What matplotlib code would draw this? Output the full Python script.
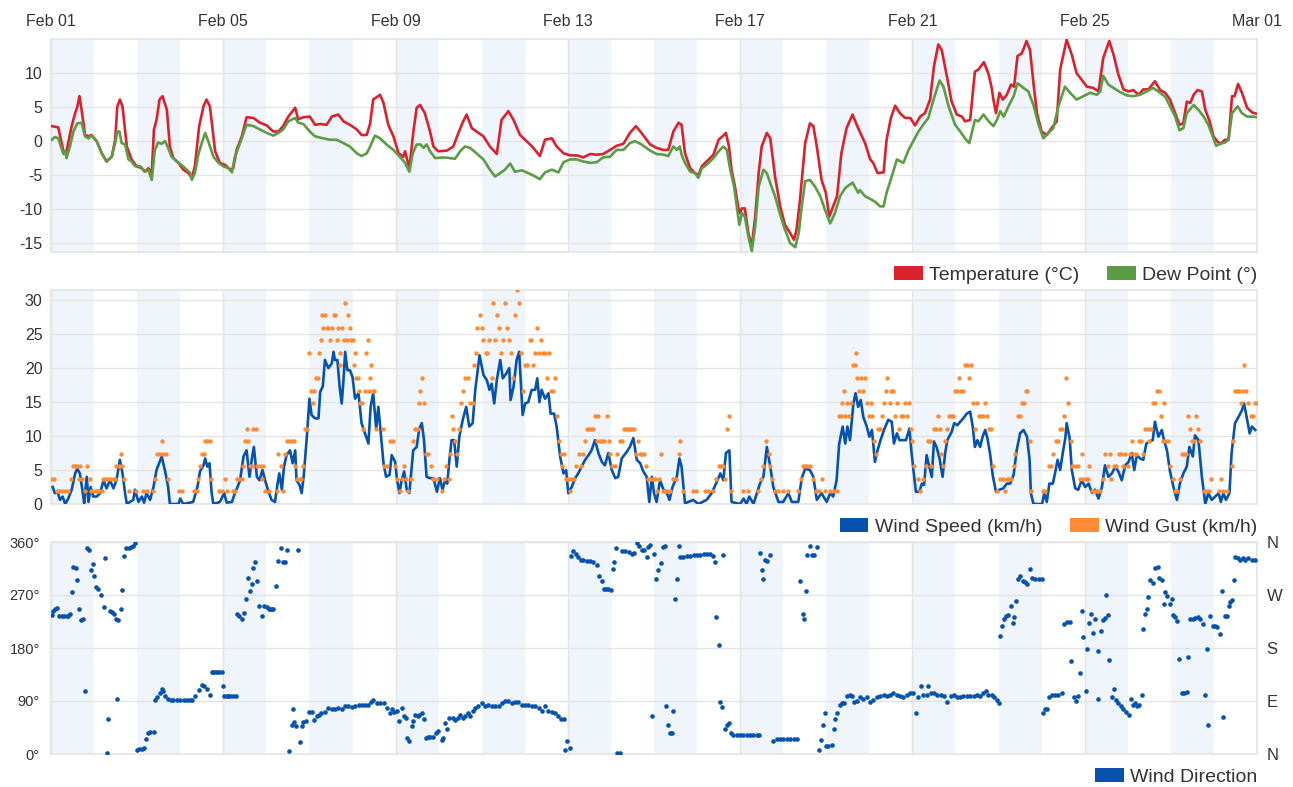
import matplotlib
matplotlib.use("Agg")
import matplotlib.pyplot as plt
from matplotlib.patches import Patch

plt.rcParams['font.family'] = ['Liberation Sans', 'DejaVu Sans']

# ---------------- data (time in days since Feb 01 00:00) ----------------
day_ticks = [0, 4, 8, 12, 16, 20, 24, 28]
day_labels = ["Feb 01", "Feb 05", "Feb 09", "Feb 13", "Feb 17", "Feb 21", "Feb 25", "Mar 01"]

temp_ticks = [-15, -10, -5, 0, 5, 10]
speed_ticks = [0, 5, 10, 15, 20, 25, 30]
dir_ticks = [0, 90, 180, 270, 360]
dir_labels = ["0°", "90°", "180°", "270°", "360°"]
compass_labels = ["N", "E", "S", "W", "N"]

temperature = [
    (0.02, 2.2), (0.17, 2.0), (0.23, 0.2), (0.29, -1.5), (0.36, -1.5), (0.48, 2.2), (0.56, 4.1), (0.61, 5.0),
    (0.66, 6.6), (0.71, 4.6), (0.79, 0.9), (0.87, 0.7), (0.94, 0.9), (1.06, 0.0), (1.18, -1.8), (1.29, -3.0),
    (1.41, -2.3), (1.49, 0.2), (1.54, 5.1), (1.60, 6.1), (1.66, 5.1), (1.76, -0.8), (1.87, -2.7), (1.99, -3.7),
    (2.11, -4.0), (2.18, -4.5), (2.26, -4.0), (2.34, -4.7), (2.39, 1.7), (2.45, 3.1), (2.52, 6.1), (2.59, 6.6),
    (2.69, 4.6), (2.76, -0.8), (2.84, -2.5), (2.96, -3.2), (3.07, -4.2), (3.19, -4.7), (3.27, -5.4), (3.34, -3.7),
    (3.44, 2.2), (3.54, 5.1), (3.61, 6.1), (3.69, 5.1), (3.81, -1.5), (3.92, -3.2), (4.04, -3.5), (4.16, -4.2),
    (4.23, -4.0), (4.31, -1.3), (4.43, 0.7), (4.54, 3.5), (4.70, 3.4), (4.85, 2.7), (5.01, 2.3), (5.16, 1.4),
    (5.28, 1.4), (5.39, 2.2), (5.51, 3.6), (5.67, 4.9), (5.74, 3.2), (5.86, 3.5), (6.01, 3.6), (6.13, 2.4),
    (6.25, 2.5), (6.40, 2.4), (6.52, 3.6), (6.67, 3.9), (6.79, 2.9), (6.94, 2.4), (7.10, 1.7), (7.21, 0.9),
    (7.33, 0.9), (7.41, 2.6), (7.48, 6.1), (7.64, 6.8), (7.72, 5.6), (7.83, 2.4), (7.95, 0.7), (8.07, -1.8),
    (8.18, -2.3), (8.22, -1.5), (8.32, -4.0), (8.41, 1.2), (8.49, 4.9), (8.57, 5.3), (8.68, 4.1),
    (8.80, 1.4), (8.88, -0.8), (8.99, -1.5), (9.19, -1.4), (9.34, -0.8), (9.46, 1.2), (9.57, 2.9), (9.65, 3.9),
    (9.77, 1.9), (9.88, 1.4), (10.04, 0.7), (10.19, -0.8), (10.35, -1.9), (10.46, 3.1), (10.62, 4.4), (10.74, 3.1),
    (10.89, 0.9), (11.04, 0.0), (11.20, -1.0), (11.35, -2.2), (11.47, 0.2), (11.63, 0.4), (11.74, -0.8), (11.90, -1.8),
    (12.05, -2.1), (12.21, -2.1), (12.36, -2.4), (12.52, -1.9), (12.67, -2.0), (12.82, -1.9), (12.98, -1.3), (13.13, -0.7),
    (13.29, -0.4), (13.44, 1.2), (13.58, 2.2), (13.71, 1.2), (13.91, -0.5), (14.06, -1.0), (14.22, -1.3), (14.33, -1.3),
    (14.45, 1.4), (14.57, 2.7), (14.64, 2.4), (14.72, -1.8), (14.84, -4.0), (14.95, -4.7), (15.03, -5.0), (15.11, -3.7),
    (15.22, -3.0), (15.38, -2.0), (15.50, 0.2), (15.61, 0.8), (15.67, 1.2), (15.74, -0.8), (15.80, -4.2), (15.88, -6.7),
    (15.98, -10.6), (16.04, -9.9), (16.11, -9.9), (16.19, -13.5), (16.27, -15.5), (16.35, -11.1), (16.43, -4.7), (16.50, -0.8),
    (16.62, 1.2), (16.70, 0.4), (16.81, -5.2), (16.93, -9.6), (17.04, -12.3), (17.16, -13.5), (17.25, -14.5), (17.31, -13.0),
    (17.39, -8.6), (17.51, -0.3), (17.62, 2.6), (17.70, 2.2), (17.78, -0.8), (17.89, -5.7), (17.99, -7.6), (18.07, -11.1),
    (18.16, -9.6), (18.25, -8.1), (18.35, -1.8), (18.47, 1.9), (18.61, 3.9), (18.74, 1.9),
    (18.90, -0.3), (19.02, -2.7), (19.09, -3.2), (19.19, -4.7), (19.33, -4.6), (19.40, 0.2), (19.50, 3.4), (19.60, 5.2),
    (19.71, 4.1), (19.83, 3.4), (19.95, 3.4), (20.06, 2.3), (20.18, 3.6), (20.29, 4.1), (20.41, 6.1), (20.50, 11.0),
    (20.60, 14.2), (20.68, 13.4), (20.80, 9.5), (20.91, 5.8), (21.03, 3.9), (21.15, 3.6), (21.22, 2.9), (21.34, 3.1),
    (21.45, 10.2), (21.53, 10.5), (21.66, 11.6), (21.77, 9.8), (21.84, 7.8), (21.88, 6.1), (21.94, 4.1), (22.02, 7.1),
    (22.10, 6.1), (22.19, 6.8), (22.29, 8.3), (22.36, 8.0), (22.44, 12.5), (22.54, 12.9), (22.65, 14.7), (22.73, 13.4),
    (22.81, 8.5), (22.89, 4.1), (23.00, 1.4), (23.12, 0.9), (23.23, 1.9), (23.35, 2.9), (23.43, 10.5), (23.58, 14.9),
    (23.70, 12.7), (23.81, 10.0), (23.93, 9.0), (24.05, 8.0), (24.20, 7.8), (24.32, 7.3), (24.43, 12.2), (24.57, 14.7),
    (24.67, 12.7), (24.78, 9.8), (24.90, 7.6), (25.02, 7.3), (25.13, 7.5), (25.25, 6.8), (25.36, 7.6), (25.48, 7.6),
    (25.63, 8.8), (25.75, 7.5), (25.87, 7.1), (25.98, 6.1), (26.10, 4.1), (26.20, 2.4), (26.29, 2.6), (26.37, 5.8),
    (26.45, 5.6), (26.53, 6.8), (26.62, 7.5), (26.72, 7.3), (26.80, 4.6), (26.90, 2.9), (26.99, 0.7), (27.07, 0.0),
    (27.15, -0.4), (27.26, 0.2), (27.34, 0.2), (27.42, 6.6), (27.48, 6.6), (27.56, 8.4), (27.65, 7.1), (27.77, 4.9),
    (27.89, 4.2), (28.00, 4.0),
]

dew_point = [
    (0.02, 0.2), (0.09, 0.6), (0.17, 0.4), (0.23, -0.8), (0.29, -1.9), (0.33, -1.5), (0.36, -2.5), (0.44, -0.8),
    (0.52, 1.4), (0.61, 2.6), (0.71, 2.7), (0.79, 0.7), (0.87, 0.4), (0.94, 0.8), (1.06, 0.0), (1.18, -1.8),
    (1.29, -3.0), (1.41, -2.3), (1.49, -0.3), (1.54, 1.4), (1.59, 1.4), (1.64, -0.3), (1.72, -0.5), (1.80, -2.7),
    (1.87, -3.0), (1.95, -3.7), (2.07, -3.7), (2.18, -4.5), (2.26, -4.2), (2.34, -5.7), (2.41, -1.3), (2.49, -0.2),
    (2.57, -0.4), (2.65, 0.0), (2.72, -1.0), (2.80, -2.3), (2.92, -3.0), (3.03, -3.5), (3.15, -4.2), (3.23, -4.7),
    (3.27, -5.7), (3.34, -4.7), (3.42, -2.0), (3.50, -0.3), (3.58, 1.2), (3.65, 0.0), (3.77, -2.3), (3.89, -3.2),
    (4.00, -3.7), (4.12, -4.0), (4.20, -4.6), (4.27, -2.3), (4.39, -0.3), (4.54, 2.4), (4.70, 2.2), (4.85, 1.7),
    (5.01, 1.2), (5.16, 0.8), (5.28, 1.2), (5.39, 1.7), (5.51, 2.9), (5.67, 3.4), (5.74, 2.7), (5.86, 2.5),
    (6.01, 1.4), (6.13, 0.7), (6.32, 0.4), (6.48, 0.2), (6.63, 0.2), (6.79, -0.3), (6.94, -0.8), (7.10, -1.8),
    (7.21, -2.2), (7.33, -1.8), (7.41, -0.8), (7.52, 0.8), (7.64, 0.4), (7.79, -0.5), (7.95, -1.3), (8.10, -2.3),
    (8.22, -3.2), (8.32, -4.5), (8.40, -1.8), (8.49, -0.5), (8.58, -0.5), (8.65, -1.0), (8.72, -0.5),
    (8.80, -1.5), (8.92, -2.5), (9.11, -2.4), (9.26, -2.5), (9.38, -2.6), (9.50, -1.5), (9.61, -0.8), (9.73, -1.0),
    (9.88, -1.8), (10.04, -2.7), (10.19, -4.2), (10.31, -5.2), (10.43, -4.7), (10.54, -4.2), (10.66, -3.3), (10.77, -4.5),
    (10.93, -4.3), (11.08, -4.7), (11.24, -5.2), (11.35, -5.6), (11.47, -4.6), (11.63, -4.2), (11.78, -4.6), (11.90, -3.1),
    (12.05, -2.7), (12.21, -2.7), (12.36, -3.0), (12.52, -3.2), (12.67, -3.1), (12.82, -2.4), (12.98, -2.3), (13.13, -1.3),
    (13.29, -1.3), (13.44, -0.3), (13.56, 0.0), (13.71, -0.5), (13.91, -1.4), (14.06, -1.9), (14.22, -2.0), (14.33, -2.2),
    (14.45, -0.8), (14.53, -1.3), (14.60, -0.8), (14.64, -2.0), (14.72, -3.2), (14.84, -4.5), (14.95, -4.7), (15.03, -5.4),
    (15.11, -4.0), (15.22, -3.5), (15.38, -2.5), (15.50, -1.5), (15.61, -0.8), (15.69, -1.3), (15.77, -4.2), (15.86, -6.7),
    (15.98, -12.3), (16.04, -10.6), (16.11, -11.1), (16.19, -14.0), (16.27, -16.2), (16.35, -12.5), (16.43, -6.7), (16.54, -4.2),
    (16.62, -4.7), (16.70, -6.2), (16.81, -8.1), (16.93, -10.8), (17.04, -13.0), (17.16, -15.0), (17.28, -15.6), (17.36, -13.5),
    (17.43, -9.6), (17.51, -5.9), (17.62, -5.7), (17.74, -6.7), (17.86, -8.1), (17.97, -10.1), (18.09, -12.1), (18.20, -10.6),
    (18.32, -8.1), (18.44, -6.9), (18.61, -6.1), (18.74, -7.6),
    (18.78, -7.2), (18.90, -8.1), (19.02, -8.5), (19.13, -8.9), (19.25, -9.6), (19.33, -9.6), (19.40, -7.6), (19.52, -5.2),
    (19.64, -2.7), (19.79, -3.2), (19.91, -1.3), (20.02, 0.0), (20.14, 1.4), (20.25, 2.4), (20.37, 3.4), (20.49, 6.1),
    (20.63, 8.9), (20.72, 8.0), (20.84, 5.1), (20.99, 2.4), (21.11, 1.4), (21.22, 0.4), (21.32, -0.3), (21.45, 3.1),
    (21.53, 2.9), (21.65, 3.9), (21.77, 2.9), (21.88, 2.2), (21.96, 3.1), (22.04, 4.4), (22.12, 3.6), (22.23, 5.1),
    (22.35, 6.6), (22.44, 8.5), (22.58, 7.8), (22.69, 7.3), (22.81, 5.3), (22.93, 2.4), (23.04, 0.4), (23.16, 1.2),
    (23.27, 1.9), (23.39, 5.1), (23.54, 8.0), (23.66, 7.1), (23.81, 6.1), (23.97, 6.6), (24.13, 7.1), (24.28, 6.8),
    (24.36, 7.3), (24.43, 9.6), (24.55, 8.3), (24.67, 7.8), (24.82, 7.2), (24.98, 6.7), (25.13, 6.6), (25.28, 6.8),
    (25.44, 7.3), (25.59, 7.8), (25.75, 7.1), (25.87, 6.5), (25.98, 5.1), (26.10, 3.6), (26.20, 1.6), (26.29, 1.9),
    (26.37, 4.1), (26.53, 5.3), (26.64, 4.6), (26.76, 3.6), (26.87, 2.4), (26.99, 0.4), (27.05, -0.7), (27.15, -0.4),
    (27.26, -0.2), (27.34, 0.2), (27.42, 4.1), (27.55, 5.1), (27.65, 4.1), (27.77, 3.6), (27.89, 3.6), (28.00, 3.5),
]

wind_speed = [
    (0.04, 2.5), (0.09, 1.6), (0.15, 1.8), (0.21, 0.6), (0.27, 1.1), (0.33, 0.0), (0.40, 0.8), (0.48, 2.1),
    (0.56, 4.5), (0.61, 5.2), (0.67, 4.5), (0.74, 1.6), (0.77, 0.1), (0.83, 4.0), (0.87, 0.3), (0.92, 2.5),
    (0.98, 1.1), (1.06, 1.1), (1.14, 1.6), (1.22, 3.5), (1.29, 2.3), (1.37, 3.5), (1.45, 2.3), (1.52, 3.5),
    (1.60, 6.5), (1.66, 4.5), (1.72, 1.6), (1.76, 0.0), (1.83, 0.3), (1.91, 0.6), (1.95, 2.1), (2.03, 0.3),
    (2.11, 1.1), (2.16, 0.2), (2.22, 1.6), (2.30, 0.6), (2.38, 2.5), (2.45, 5.0), (2.57, 7.0), (2.65, 4.8),
    (2.72, 2.5), (2.76, 0.0), (2.96, 0.0), (3.00, 0.8), (3.07, 0.0), (3.30, 0.3), (3.40, 2.5), (3.46, 4.8),
    (3.54, 5.7), (3.58, 6.7), (3.63, 5.5), (3.68, 6.0), (3.73, 1.6), (3.77, 0.0), (3.92, 0.3), (4.02, 1.6),
    (4.08, 0.2), (4.20, 0.3), (4.27, 1.6), (4.33, 2.5), (4.39, 3.5), (4.47, 7.0), (4.54, 7.9), (4.61, 4.0),
    (4.66, 6.5), (4.71, 8.4), (4.78, 4.0), (4.84, 3.5), (4.91, 5.0), (4.97, 3.5), (5.05, 1.8), (5.12, 0.6),
    (5.20, 0.3), (5.26, 3.0), (5.30, 4.5), (5.36, 2.1), (5.41, 5.5), (5.47, 7.2), (5.55, 7.9), (5.61, 6.0),
    (5.67, 7.9), (5.70, 3.5), (5.77, 2.8), (5.82, 1.6), (5.87, 4.3), (5.94, 9.9), (6.00, 15.5), (6.05, 13.1),
    (6.13, 12.6), (6.21, 12.6), (6.25, 16.5), (6.31, 17.3), (6.36, 21.2), (6.44, 20.0), (6.52, 20.7), (6.56, 22.4),
    (6.59, 21.2), (6.65, 21.2), (6.70, 17.3), (6.75, 14.8), (6.79, 18.2), (6.83, 22.4), (6.88, 19.7), (6.94, 19.7),
    (7.00, 18.7), (7.06, 15.5), (7.14, 16.3), (7.21, 11.9), (7.29, 10.4), (7.37, 8.9), (7.42, 14.3), (7.48, 16.3),
    (7.55, 11.1), (7.60, 14.3), (7.65, 10.9), (7.72, 6.0), (7.78, 4.0), (7.86, 4.3), (7.91, 7.2), (7.99, 6.2),
    (8.03, 3.8), (8.09, 1.6), (8.14, 3.5), (8.20, 4.8), (8.26, 2.1), (8.32, 1.6), (8.41, 7.9), (8.49, 8.4),
    (8.55, 11.1), (8.61, 11.9), (8.66, 9.4), (8.72, 4.0),
    (8.80, 3.8), (8.88, 3.8), (8.96, 1.8), (9.03, 3.8), (9.09, 2.1), (9.15, 3.5), (9.20, 3.0), (9.25, 6.5),
    (9.30, 9.4), (9.36, 9.4), (9.42, 5.5), (9.48, 9.9), (9.56, 12.4), (9.64, 14.3), (9.71, 11.4), (9.79, 11.9),
    (9.85, 16.8), (9.95, 21.9), (10.04, 19.0), (10.12, 18.2), (10.18, 16.8), (10.23, 17.7), (10.29, 14.8), (10.35, 18.2),
    (10.43, 21.2), (10.49, 18.5), (10.57, 19.2), (10.64, 20.0), (10.67, 15.3), (10.74, 17.3), (10.81, 21.2), (10.87, 22.4),
    (10.95, 13.1), (11.01, 14.8), (11.08, 15.0), (11.16, 16.8), (11.24, 16.8), (11.29, 18.5), (11.34, 15.0), (11.39, 16.8),
    (11.47, 15.5), (11.55, 16.3), (11.60, 13.3), (11.68, 13.3), (11.74, 11.4), (11.82, 7.0), (11.90, 4.5), (11.96, 5.0),
    (12.01, 1.6), (12.09, 2.5), (12.17, 3.8), (12.24, 4.5), (12.32, 5.5), (12.40, 6.5), (12.48, 7.2), (12.55, 7.9),
    (12.63, 9.4), (12.71, 7.5), (12.79, 6.2), (12.86, 5.7), (12.94, 7.5), (13.02, 5.0), (13.10, 3.8), (13.17, 4.0),
    (13.25, 6.7), (13.37, 7.7), (13.44, 8.4), (13.52, 9.7), (13.60, 6.5), (13.68, 6.0), (13.75, 4.8), (13.83, 4.0),
    (13.89, 0.3), (13.95, 4.0), (14.00, 1.6), (14.06, 0.3), (14.14, 3.5), (14.22, 2.1), (14.30, 1.6), (14.36, 0.6),
    (14.43, 2.5), (14.53, 4.0), (14.59, 6.7), (14.64, 5.5), (14.72, 0.1), (14.91, 0.6), (15.03, 0.0), (15.22, 0.6),
    (15.34, 1.6), (15.46, 3.3), (15.54, 4.5), (15.61, 3.5), (15.67, 7.5), (15.75, 7.9), (15.80, 0.3), (16.00, 0.0),
    (16.08, 0.8), (16.15, 0.0), (16.21, 1.1), (16.31, 0.0), (16.46, 3.0), (16.54, 4.0), (16.62, 8.4), (16.70, 5.5),
    (16.77, 2.5), (16.89, 0.3), (17.00, 0.3), (17.12, 1.6), (17.20, 0.3), (17.35, 0.3), (17.43, 3.8), (17.51, 5.2),
    (17.62, 5.0), (17.70, 4.0), (17.78, 0.6), (17.89, 1.6), (18.01, 0.3), (18.09, 1.6), (18.16, 1.1), (18.24, 3.5),
    (18.30, 8.9), (18.38, 11.4), (18.44, 8.9), (18.49, 11.4), (18.55, 9.4), (18.63, 14.8), (18.68, 16.3), (18.74, 14.3),
    (18.80, 15.3), (18.86, 12.8), (18.94, 11.4), (19.00, 9.9), (19.06, 10.9), (19.13, 6.2), (19.19, 7.9), (19.26, 9.4),
    (19.34, 10.9), (19.44, 12.4), (19.52, 12.1), (19.57, 8.9), (19.64, 10.4), (19.70, 9.4), (19.78, 9.4), (19.85, 9.4),
    (19.93, 11.1), (19.98, 7.5), (20.04, 4.0), (20.08, 1.8), (20.16, 1.8), (20.22, 3.0), (20.27, 2.8), (20.33, 7.2),
    (20.39, 5.5), (20.45, 4.0), (20.50, 9.2), (20.56, 8.4), (20.63, 6.7), (20.70, 4.0), (20.76, 7.5), (20.81, 9.4),
    (20.91, 10.6), (20.97, 11.9), (21.04, 11.6), (21.11, 12.1), (21.18, 12.6), (21.26, 13.3), (21.34, 13.6), (21.40, 11.4),
    (21.45, 8.4), (21.51, 9.4), (21.57, 8.4), (21.63, 9.9), (21.69, 10.9), (21.74, 9.7), (21.80, 7.5), (21.87, 4.0),
    (21.94, 1.8), (22.02, 2.1), (22.11, 2.3), (22.19, 3.0), (22.27, 3.0), (22.35, 4.3), (22.42, 7.9), (22.50, 10.4),
    (22.58, 10.9), (22.66, 9.9), (22.72, 6.5), (22.75, 1.6), (22.81, 0.0), (23.01, 0.0), (23.06, 1.6), (23.12, 0.3),
    (23.18, 3.0), (23.26, 3.0), (23.31, 4.5), (23.37, 6.5), (23.43, 5.0), (23.49, 7.5), (23.55, 9.7), (23.58, 11.9),
    (23.65, 9.7), (23.70, 5.0), (23.78, 2.3), (23.85, 2.1), (23.93, 3.5), (24.01, 2.5), (24.09, 3.0), (24.17, 1.6),
    (24.24, 2.1), (24.32, 0.8), (24.40, 2.5), (24.47, 5.7), (24.55, 4.0), (24.63, 4.5), (24.71, 5.5), (24.78, 4.8),
    (24.86, 3.5), (24.94, 5.7), (25.02, 6.2), (25.09, 7.5), (25.15, 5.0), (25.21, 7.2), (25.29, 6.7), (25.36, 6.5),
    (25.43, 8.9), (25.50, 9.2), (25.58, 9.4), (25.63, 12.1), (25.71, 9.9), (25.79, 10.9), (25.84, 9.4), (25.91, 7.9),
    (25.98, 4.8), (26.06, 2.5), (26.14, 0.6), (26.21, 3.0), (26.29, 4.5), (26.37, 5.5), (26.43, 8.4), (26.51, 7.0),
    (26.56, 10.1), (26.64, 9.4), (26.72, 4.0), (26.80, 0.0), (26.87, 1.6), (26.95, 0.6), (27.03, 1.1), (27.11, 1.6),
    (27.16, 0.3), (27.22, 1.6), (27.28, 0.6), (27.36, 1.6), (27.41, 7.5), (27.49, 11.9), (27.57, 12.8), (27.65, 13.8),
    (27.70, 14.8), (27.76, 12.8), (27.83, 10.4), (27.88, 11.4), (27.96, 10.9),
]

wind_gust = [
    (0.02, 3.7), (0.08, 3.7), (0.13, 1.9), (0.19, 1.9), (0.26, 1.9), (0.33, 1.9), (0.40, 1.9), (0.46, 3.7),
    (0.50, 5.6), (0.56, 5.6), (0.61, 5.6), (0.64, 3.7), (0.67, 5.6), (0.71, 3.7), (0.79, 1.9), (0.84, 5.6),
    (0.91, 3.7), (0.94, 1.9), (1.01, 1.9), (1.06, 1.9), (1.12, 1.9), (1.18, 1.9), (1.20, 3.7), (1.25, 3.7),
    (1.31, 3.7), (1.37, 3.7), (1.43, 3.7), (1.49, 3.7), (1.52, 5.6), (1.59, 5.6), (1.62, 7.4), (1.64, 5.6),
    (1.70, 3.7), (1.80, 1.9), (1.97, 1.9), (2.14, 1.9), (2.22, 1.9), (2.36, 1.9), (2.41, 3.7), (2.45, 7.4),
    (2.52, 7.4), (2.57, 9.3), (2.59, 7.4), (2.66, 7.4), (2.72, 3.7), (2.98, 1.9), (3.03, 1.9), (3.33, 1.9),
    (3.38, 1.9), (3.42, 3.7), (3.46, 5.6), (3.50, 7.4), (3.55, 7.4), (3.58, 9.3), (3.63, 9.3), (3.68, 9.3),
    (3.71, 3.7), (3.91, 1.9), (3.96, 1.9), (4.04, 3.7), (4.08, 1.9), (4.23, 1.9), (4.28, 1.9), (4.33, 3.7),
    (4.37, 3.7), (4.43, 3.7), (4.45, 5.6), (4.50, 9.3), (4.54, 11.1), (4.58, 9.3), (4.62, 5.6), (4.67, 5.6),
    (4.70, 11.1), (4.76, 11.1), (4.79, 5.6), (4.85, 5.6), (4.89, 3.7), (4.93, 5.6), (4.98, 1.9), (5.05, 1.9),
    (5.24, 1.9), (5.28, 7.4), (5.33, 5.6), (5.38, 1.9), (5.43, 7.4), (5.47, 9.3), (5.53, 9.3), (5.59, 9.3),
    (5.64, 9.3), (5.67, 5.6), (5.72, 3.7), (5.77, 3.7), (5.80, 3.7), (5.84, 5.6), (5.90, 11.1), (5.95, 11.1),
    (6.00, 22.2), (6.04, 16.7), (6.08, 14.8), (6.11, 16.7), (6.15, 18.5), (6.19, 18.5), (6.23, 22.2), (6.26, 24.1),
    (6.29, 27.8), (6.32, 25.9), (6.36, 27.8), (6.40, 25.9), (6.44, 25.9), (6.48, 24.1), (6.52, 25.9), (6.56, 27.8),
    (6.60, 27.8), (6.63, 24.1), (6.67, 25.9), (6.70, 22.2), (6.72, 20.4), (6.76, 25.9), (6.80, 24.1), (6.83, 29.6),
    (6.87, 24.1), (6.90, 27.8), (6.94, 25.9), (6.97, 24.1), (7.00, 24.1), (7.03, 20.4), (7.06, 22.2), (7.09, 18.5),
    (7.12, 18.5), (7.15, 16.7), (7.18, 14.8), (7.21, 14.8), (7.25, 11.1), (7.29, 16.7), (7.32, 22.2), (7.35, 24.1),
    (7.38, 16.7), (7.41, 18.5), (7.44, 20.4), (7.47, 16.7), (7.51, 16.7), (7.55, 11.1),
    (7.70, 11.1), (7.73, 5.6), (7.79, 5.6), (7.87, 9.3), (7.93, 9.3), (7.99, 5.6), (8.04, 3.7), (8.10, 1.9),
    (8.14, 3.7), (8.20, 5.6), (8.24, 3.7), (8.30, 1.9), (8.35, 3.7), (8.40, 9.3), (8.45, 11.1), (8.51, 11.1),
    (8.54, 14.8), (8.57, 16.7), (8.61, 18.5), (8.65, 14.8), (8.71, 7.4), (8.76, 7.4), (8.82, 5.6),
    (8.88, 3.7), (8.96, 3.7), (9.07, 1.9), (9.12, 3.7), (9.17, 5.6), (9.23, 3.7), (9.27, 7.4), (9.30, 13.0),
    (9.33, 11.1), (9.37, 9.3), (9.42, 7.4), (9.47, 11.1), (9.52, 14.8), (9.57, 16.7), (9.62, 18.5), (9.67, 18.5),
    (9.73, 14.8), (9.79, 14.8), (9.83, 20.4), (9.87, 22.2), (9.90, 25.9), (9.95, 27.8), (10.00, 25.9), (10.04, 24.1),
    (10.09, 22.2), (10.13, 22.2), (10.18, 24.1), (10.23, 18.5), (10.27, 29.6), (10.31, 24.1), (10.36, 27.8), (10.41, 25.9),
    (10.45, 22.2), (10.49, 24.1), (10.54, 29.6), (10.58, 25.9), (10.63, 24.1), (10.67, 22.2), (10.73, 18.5), (10.78, 27.8),
    (10.83, 31.5), (10.87, 29.6), (10.91, 22.2), (10.95, 16.7), (11.01, 20.4), (11.06, 20.4), (11.11, 24.1), (11.15, 24.1),
    (11.20, 20.4), (11.24, 22.2), (11.28, 25.9), (11.32, 22.2), (11.37, 24.1), (11.42, 22.2), (11.47, 22.2), (11.52, 18.5),
    (11.57, 22.2), (11.62, 16.7), (11.66, 16.7), (11.70, 18.5), (11.74, 13.0), (11.79, 9.3), (11.83, 7.4), (11.87, 5.6),
    (11.91, 7.4), (11.96, 3.7), (12.00, 3.7), (12.04, 1.9), (12.08, 3.7), (12.14, 3.7), (12.20, 5.6), (12.26, 7.4),
    (12.31, 5.6), (12.36, 7.4), (12.40, 9.3), (12.44, 11.1), (12.49, 11.1), (12.53, 11.1), (12.58, 11.1), (12.62, 13.0),
    (12.67, 9.3), (12.71, 13.0), (12.75, 9.3), (12.80, 9.3), (12.85, 9.3), (12.90, 13.0), (12.95, 9.3), (12.99, 7.4),
    (13.03, 5.6), (13.09, 5.6), (13.15, 7.4), (13.21, 9.3), (13.26, 9.3), (13.30, 11.1), (13.35, 11.1), (13.40, 11.1),
    (13.44, 11.1), (13.49, 11.1), (13.54, 11.1), (13.58, 7.4), (13.63, 9.3), (13.68, 7.4), (13.72, 7.4), (13.77, 7.4),
    (13.82, 5.6), (13.87, 3.7), (13.92, 3.7), (13.97, 3.7), (14.03, 3.7), (14.06, 1.9), (14.11, 3.7), (14.16, 7.4),
    (14.20, 1.9), (14.26, 1.9), (14.31, 1.9), (14.37, 1.9), (14.43, 3.7), (14.51, 3.7), (14.57, 7.4), (14.61, 9.3),
    (14.67, 1.9), (14.91, 1.9), (14.98, 1.9), (15.19, 1.9), (15.25, 1.9), (15.38, 1.9), (15.44, 3.7), (15.50, 5.6),
    (15.55, 5.6), (15.61, 5.6), (15.65, 3.7), (15.69, 11.1), (15.73, 13.0), (15.79, 1.9), (16.07, 1.9), (16.19, 1.9),
    (16.42, 1.9), (16.48, 3.7), (16.54, 5.6), (16.60, 9.3), (16.66, 7.4), (16.70, 5.6), (16.75, 3.7), (16.81, 1.9),
    (16.89, 1.9), (17.00, 1.9), (17.10, 1.9), (17.35, 1.9), (17.41, 3.7), (17.45, 5.6), (17.51, 5.6), (17.56, 5.6),
    (17.62, 5.6), (17.69, 3.7), (17.76, 1.9), (17.84, 1.9), (17.90, 3.7), (17.97, 1.9), (18.09, 1.9), (18.18, 1.9),
    (18.24, 1.9), (18.29, 13.0), (18.34, 13.0), (18.37, 14.8), (18.40, 16.7), (18.44, 13.0), (18.49, 14.8), (18.52, 13.0),
    (18.57, 14.8), (18.61, 20.4), (18.66, 20.4), (18.69, 22.2), (18.72, 18.5), (18.77, 16.7), (18.81, 18.5), (18.85, 16.7),
    (18.90, 18.5), (18.94, 14.8), (18.99, 13.0),
    (19.03, 14.8), (19.06, 13.0), (19.11, 9.3), (19.16, 7.4), (19.20, 11.1), (19.25, 11.1), (19.30, 13.0), (19.34, 14.8),
    (19.39, 16.7), (19.42, 18.5), (19.47, 14.8), (19.50, 16.7), (19.54, 16.7), (19.59, 13.0), (19.64, 14.8), (19.69, 11.1),
    (19.73, 13.0), (19.78, 13.0), (19.83, 14.8), (19.87, 13.0), (19.92, 14.8), (19.96, 11.1), (19.99, 9.3), (20.04, 5.6),
    (20.12, 3.7), (20.18, 1.9), (20.25, 3.7), (20.31, 5.6), (20.35, 9.3), (20.41, 9.3), (20.44, 5.6), (20.49, 11.1),
    (20.55, 11.1), (20.59, 13.0), (20.63, 11.1), (20.67, 7.4), (20.70, 5.6), (20.76, 9.3), (20.81, 11.1), (20.85, 13.0),
    (20.90, 13.0), (20.94, 13.0), (20.98, 16.7), (21.03, 16.7), (21.07, 18.5), (21.12, 16.7), (21.17, 16.7), (21.22, 20.4),
    (21.26, 20.4), (21.31, 18.5), (21.35, 20.4), (21.40, 14.8), (21.45, 11.1), (21.49, 14.8), (21.54, 13.0), (21.59, 13.0),
    (21.63, 13.0), (21.68, 14.8), (21.73, 13.0), (21.77, 11.1), (21.82, 11.1), (21.88, 5.6), (21.96, 1.9), (22.03, 3.7),
    (22.10, 3.7), (22.14, 1.9), (22.19, 3.7), (22.25, 3.7), (22.30, 3.7), (22.35, 5.6), (22.39, 7.4), (22.44, 13.0),
    (22.49, 13.0), (22.54, 14.8), (22.58, 14.8), (22.63, 16.7), (22.67, 16.7), (22.72, 9.3), (22.75, 1.9), (23.03, 1.9),
    (23.08, 1.9), (23.16, 5.6), (23.21, 5.6), (23.27, 7.4), (23.33, 9.3), (23.39, 9.3), (23.43, 11.1), (23.48, 11.1),
    (23.52, 13.0), (23.57, 18.5), (23.62, 14.8), (23.67, 9.3), (23.71, 5.6), (23.77, 5.6), (23.84, 5.6), (23.88, 3.7),
    (23.93, 7.4), (23.97, 3.7), (24.02, 3.7), (24.07, 3.7), (24.11, 5.6), (24.17, 1.9), (24.23, 1.9), (24.29, 1.9),
    (24.36, 1.9), (24.42, 3.7), (24.48, 7.4), (24.53, 5.6), (24.58, 7.4), (24.62, 3.7), (24.67, 5.6), (24.73, 5.6),
    (24.79, 7.4), (24.84, 7.4), (24.89, 5.6), (24.94, 7.4), (25.00, 5.6), (25.04, 7.4), (25.09, 9.3), (25.15, 7.4),
    (25.19, 7.4), (25.25, 9.3), (25.30, 9.3), (25.35, 7.4), (25.40, 11.1), (25.46, 11.1), (25.50, 9.3), (25.53, 11.1),
    (25.58, 14.8), (25.63, 14.8), (25.67, 16.7), (25.72, 16.7), (25.77, 13.0), (25.81, 9.3), (25.84, 14.8), (25.89, 9.3),
    (25.94, 9.3), (25.98, 5.6), (26.04, 3.7), (26.10, 1.9), (26.15, 1.9), (26.21, 3.7), (26.26, 7.4), (26.31, 7.4),
    (26.35, 7.4), (26.40, 13.0), (26.45, 11.1), (26.49, 9.3), (26.54, 9.3), (26.59, 13.0), (26.64, 11.1), (26.68, 9.3),
    (26.76, 1.9), (26.82, 1.9), (26.88, 1.9), (26.93, 3.7), (27.11, 1.9), (27.16, 3.7), (27.22, 1.9), (27.30, 1.9),
    (27.41, 5.6), (27.44, 9.3), (27.49, 16.7), (27.53, 16.7), (27.58, 16.7), (27.62, 14.8), (27.67, 16.7), (27.70, 20.4),
    (27.75, 16.7), (27.80, 14.8), (27.85, 13.0), (27.90, 13.0), (27.95, 14.8), (28.00, 14.8),
]

wind_direction = [
    (0.02, 236), (0.05, 242), (0.09, 246), (0.15, 248), (0.19, 235), (0.25, 234), (0.30, 234), (0.36, 234),
    (0.40, 235), (0.44, 238), (0.48, 275), (0.52, 317), (0.58, 316), (0.61, 295), (0.66, 246), (0.70, 228),
    (0.75, 229), (0.79, 107), (0.83, 350), (0.89, 347), (0.92, 312), (0.97, 323), (1.00, 303), (1.04, 283),
    (1.10, 280), (1.15, 270), (1.22, 249), (1.25, 333), (1.29, 1), (1.33, 59), (1.37, 243), (1.42, 241),
    (1.46, 238), (1.51, 230), (1.54, 93), (1.56, 228), (1.62, 246), (1.66, 279), (1.70, 336), (1.74, 350),
    (1.80, 350), (1.85, 351), (1.90, 353), (1.95, 359), (1.99, 7), (2.05, 9), (2.11, 9), (2.16, 10),
    (2.21, 26), (2.26, 36), (2.31, 37), (2.38, 37), (2.41, 92), (2.47, 96), (2.52, 103), (2.57, 111),
    (2.61, 107), (2.65, 98), (2.72, 93), (2.78, 92), (2.84, 92), (2.92, 92), (3.00, 92), (3.08, 92),
    (3.15, 92), (3.22, 92), (3.27, 92), (3.34, 98), (3.44, 109), (3.50, 118), (3.55, 116), (3.63, 111),
    (3.69, 100), (3.73, 139), (3.77, 139), (3.81, 139), (3.85, 139), (3.89, 139), (3.96, 139), (3.99, 116),
    (4.02, 98), (4.08, 98), (4.12, 98), (4.16, 98), (4.23, 98), (4.30, 98), (4.31, 238), (4.37, 235),
    (4.43, 229), (4.47, 239), (4.53, 264), (4.57, 299), (4.61, 276), (4.66, 289), (4.70, 316), (4.74, 326),
    (4.78, 293), (4.84, 252), (4.89, 234), (4.95, 252), (5.01, 249), (5.05, 247), (5.09, 247), (5.12, 247),
    (5.16, 247), (5.22, 285), (5.28, 327), (5.33, 349), (5.38, 326), (5.43, 326), (5.49, 346), (5.53, 5),
    (5.59, 50), (5.61, 76), (5.64, 54), (5.69, 47), (5.74, 347), (5.78, 20), (5.82, 47), (5.86, 54),
    (5.92, 56), (5.98, 71), (6.05, 71), (6.11, 57), (6.17, 64), (6.23, 67), (6.28, 70), (6.36, 71),
    (6.44, 78), (6.52, 76), (6.59, 76), (6.67, 78), (6.75, 76), (6.83, 81), (6.90, 82), (6.98, 80),
    (7.06, 82), (7.14, 84), (7.21, 84), (7.29, 84), (7.37, 84), (7.42, 88), (7.48, 92), (7.56, 87),
    (7.64, 86), (7.72, 86), (7.79, 78), (7.86, 70), (7.91, 76), (7.96, 71), (8.03, 73), (8.09, 56),
    (8.14, 78), (8.20, 64), (8.24, 61), (8.27, 27), (8.32, 22), (8.37, 47), (8.41, 56), (8.45, 67),
    (8.51, 65), (8.55, 67), (8.61, 70), (8.66, 60), (8.71, 27), (8.76, 29),
    (8.80, 29), (8.86, 29), (8.94, 35), (8.99, 39), (9.07, 23), (9.11, 27), (9.15, 53), (9.20, 43),
    (9.25, 61), (9.33, 61), (9.38, 57), (9.44, 61), (9.50, 67), (9.56, 61), (9.61, 64), (9.67, 69),
    (9.73, 65), (9.79, 73), (9.84, 78), (9.92, 81), (10.00, 86), (10.08, 82), (10.15, 84), (10.23, 82),
    (10.31, 82), (10.39, 82), (10.46, 87), (10.54, 90), (10.62, 90), (10.70, 87), (10.77, 88), (10.85, 88),
    (10.93, 84), (11.01, 84), (11.08, 84), (11.16, 82), (11.24, 81), (11.32, 78), (11.39, 73), (11.47, 81),
    (11.55, 73), (11.63, 71), (11.70, 69), (11.78, 64), (11.83, 59), (11.90, 60), (11.93, 6), (11.99, 22),
    (12.04, 10), (12.07, 337), (12.13, 344), (12.19, 340), (12.24, 334), (12.30, 330), (12.36, 329), (12.44, 327),
    (12.52, 327), (12.59, 326), (12.67, 321), (12.73, 303), (12.79, 293), (12.83, 280), (12.89, 280), (12.94, 280),
    (13.00, 279), (13.04, 314), (13.07, 326), (13.12, 349), (13.15, 2), (13.21, 1), (13.25, 344), (13.33, 344),
    (13.41, 343), (13.48, 340), (13.54, 342), (13.61, 359), (13.66, 354), (13.72, 346), (13.77, 346), (13.83, 334),
    (13.87, 351), (13.91, 355), (13.95, 64), (14.00, 340), (14.05, 297), (14.10, 313), (14.16, 325), (14.20, 351),
    (14.26, 354), (14.28, 82), (14.33, 50), (14.37, 35), (14.41, 35), (14.45, 73), (14.49, 264), (14.53, 297),
    (14.57, 353), (14.61, 334), (14.68, 334), (14.76, 336), (14.84, 337), (14.92, 338), (14.99, 338), (15.07, 338),
    (15.15, 340), (15.23, 340), (15.30, 340), (15.36, 337), (15.42, 326), (15.44, 232), (15.50, 185), (15.53, 88),
    (15.57, 80), (15.61, 338), (15.65, 43), (15.69, 50), (15.73, 53), (15.78, 35), (15.84, 33), (15.92, 33),
    (16.00, 33), (16.07, 33), (16.15, 33), (16.23, 33), (16.31, 33), (16.39, 33), (16.43, 33), (16.46, 342),
    (16.50, 312), (16.54, 297), (16.58, 330), (16.63, 327), (16.70, 338), (16.77, 22), (16.85, 26), (16.93, 26),
    (17.00, 26), (17.08, 26), (17.16, 26), (17.24, 26), (17.31, 26), (17.39, 293), (17.45, 238), (17.48, 229),
    (17.53, 276), (17.56, 338), (17.62, 354), (17.66, 338), (17.72, 338), (17.78, 351), (17.82, 6), (17.87, 23),
    (17.92, 50), (17.96, 70), (18.00, 14), (18.05, 14), (18.13, 16), (18.17, 43), (18.21, 60), (18.25, 70),
    (18.31, 84), (18.36, 86), (18.42, 86), (18.48, 98), (18.54, 101), (18.59, 98), (18.65, 88), (18.71, 90),
    (18.78, 96), (18.86, 93), (18.94, 96), (19.02, 88), (19.09, 92), (19.17, 96), (19.25, 98), (19.33, 100),
    (19.40, 98), (19.48, 101), (19.56, 104), (19.64, 101), (19.71, 98), (19.79, 97), (19.87, 101), (19.95, 104),
    (20.02, 104), (20.08, 70), (20.14, 96), (20.19, 115), (20.25, 101), (20.33, 101), (20.37, 115), (20.42, 104),
    (20.50, 104), (20.58, 101), (20.66, 101), (20.73, 98), (20.81, 88), (20.89, 98), (20.97, 100), (21.03, 96),
    (21.11, 96), (21.18, 98), (21.26, 98), (21.34, 98), (21.42, 98), (21.49, 100), (21.57, 98), (21.65, 103),
    (21.71, 107), (21.76, 101), (21.84, 101), (21.90, 96), (21.96, 92), (22.02, 86), (22.04, 200), (22.07, 218),
    (22.13, 229), (22.17, 234), (22.23, 236), (22.28, 252), (22.33, 222), (22.36, 232), (22.41, 259), (22.46, 297),
    (22.50, 303), (22.56, 293), (22.62, 292), (22.67, 289), (22.72, 314), (22.77, 299), (22.85, 297), (22.93, 297),
    (23.00, 297), (23.03, 70), (23.08, 76), (23.13, 76), (23.18, 96), (23.23, 101), (23.31, 101), (23.39, 101),
    (23.47, 103), (23.52, 221), (23.58, 225), (23.65, 224), (23.68, 158), (23.74, 96), (23.80, 90), (23.85, 98),
    (23.88, 137), (23.93, 242), (23.97, 198), (24.03, 107), (24.06, 178), (24.11, 222), (24.14, 238), (24.20, 205),
    (24.24, 229), (24.30, 175), (24.32, 93), (24.37, 209), (24.42, 228), (24.47, 231), (24.49, 270), (24.53, 236),
    (24.57, 160), (24.63, 96), (24.68, 110), (24.73, 92), (24.78, 87), (24.84, 81), (24.90, 76), (24.96, 71),
    (25.02, 67), (25.07, 93), (25.12, 84), (25.17, 87), (25.22, 81), (25.27, 84), (25.32, 100), (25.36, 212),
    (25.40, 238), (25.44, 247), (25.48, 266), (25.52, 295), (25.58, 291), (25.63, 316), (25.69, 317), (25.73, 299),
    (25.79, 295), (25.83, 255), (25.87, 275), (25.92, 269), (25.98, 255), (26.02, 264), (26.06, 236), (26.10, 232),
    (26.14, 226), (26.20, 161), (26.25, 103), (26.31, 104), (26.37, 105), (26.40, 164), (26.44, 229), (26.51, 229),
    (26.56, 231), (26.62, 232), (26.68, 229), (26.74, 221), (26.80, 100), (26.83, 178), (26.87, 50), (26.91, 234),
    (26.97, 217), (27.03, 217), (27.08, 215), (27.13, 204), (27.18, 276), (27.22, 63), (27.26, 234), (27.30, 234),
    (27.34, 251), (27.38, 258), (27.42, 262), (27.46, 295), (27.50, 334), (27.55, 333), (27.61, 330), (27.67, 332),
    (27.73, 330), (27.80, 332), (27.88, 330), (27.96, 329),
]

# ---------------- style ----------------
RED = '#d9222e'
GREEN = '#5b9c44'
BLUE = '#0652ad'
ORANGE = '#ff8b34'
BAND = '#eff5fa'
GRID = '#e4e4e4'
TEXT = '#333333'

W, H = 1293, 787
fig = plt.figure(figsize=(W / 100, H / 100), dpi=100)
left = 51 / W
width = 1206 / W
ax1 = fig.add_axes([left, 1 - 252 / H, width, 213 / H])
ax2 = fig.add_axes([left, 1 - 504 / H, width, 214 / H])
ax3 = fig.add_axes([left, 1 - 754 / H, width, 212 / H])


def style(ax):
    ax.set_xlim(0, 28)
    for d in range(0, 28, 2):
        ax.axvspan(d, d + 1, color=BAND, lw=0, zorder=0)
    ax.set_xticks(day_ticks)
    ax.set_axisbelow(True)
    ax.grid(True, color=GRID, lw=1.0)
    for s in ax.spines.values():
        s.set_color(GRID)
        s.set_linewidth(1.2)
    ax.tick_params(length=0, labelsize=11.5, colors=TEXT)
    ax.tick_params(axis='y', pad=6)


for ax in (ax1, ax2, ax3):
    style(ax)

# top panel
ax1.xaxis.tick_top()
ax1.set_xticklabels(day_labels)
ax1.tick_params(axis='x', pad=7)
ax1.set_ylim(-16.3, 15)
ax1.set_yticks(temp_ticks)
ax1.set_yticklabels([str(t) for t in temp_ticks])
tt, tv = zip(*temperature)
dt, dv = zip(*dew_point)
ax1.plot(tt, tv, color=RED, lw=1.9, zorder=3, solid_joinstyle='round')
ax1.plot(dt, dv, color=GREEN, lw=1.9, zorder=4, solid_joinstyle='round')

# middle panel
ax2.tick_params(axis='x', labelbottom=False, labeltop=False)
ax2.set_ylim(0, 31.5)
ax2.set_yticks(speed_ticks)
st, sv = zip(*wind_speed)
gt, gv = zip(*wind_gust)
ax2.plot(st, sv, color=BLUE, lw=1.9, zorder=3, solid_joinstyle='round')
ax2.scatter(gt, gv, s=10, color=ORANGE, linewidths=0, zorder=4)

# bottom panel
ax3.tick_params(axis='x', labelbottom=False, labeltop=False)
ax3.set_ylim(0, 360)
ax3.set_yticks(dir_ticks)
ax3.set_yticklabels(dir_labels)
ax3.tick_params(axis='y', labelsize=10.5, pad=8)
wt, wv = zip(*wind_direction)
ax3.scatter(wt, wv, s=11, color=BLUE, linewidths=0, zorder=4)

ax3r = ax3.twinx()
ax3r.set_ylim(0, 360)
ax3r.set_yticks(dir_ticks)
ax3r.set_yticklabels(compass_labels)
ax3r.tick_params(length=0, labelsize=12, colors=TEXT, pad=7)
for s in ax3r.spines.values():
    s.set_visible(False)

# legends
leg_kw = dict(loc='center right', frameon=False, fontsize=14, handlelength=1.45,
              handleheight=0.67, handletextpad=0.32, columnspacing=1.45,
              borderpad=0, borderaxespad=0, labelcolor=TEXT)
ax1.legend(handles=[Patch(facecolor=RED, edgecolor='none', label='Temperature (°C)'),
                    Patch(facecolor=GREEN, edgecolor='none', label='Dew Point (°)')],
           ncol=2, bbox_to_anchor=(1.0, -23 / 213), **leg_kw)
ax2.legend(handles=[Patch(facecolor=BLUE, edgecolor='none', label='Wind Speed (km/h)'),
                    Patch(facecolor=ORANGE, edgecolor='none', label='Wind Gust (km/h)')],
           ncol=2, bbox_to_anchor=(1.0, -23 / 214), **leg_kw)
ax3r.legend(handles=[Patch(facecolor=BLUE, edgecolor='none', label='Wind Direction')],
            ncol=1, bbox_to_anchor=(1.0, -23 / 212), **leg_kw)

fig.savefig('out.png', dpi=100)
